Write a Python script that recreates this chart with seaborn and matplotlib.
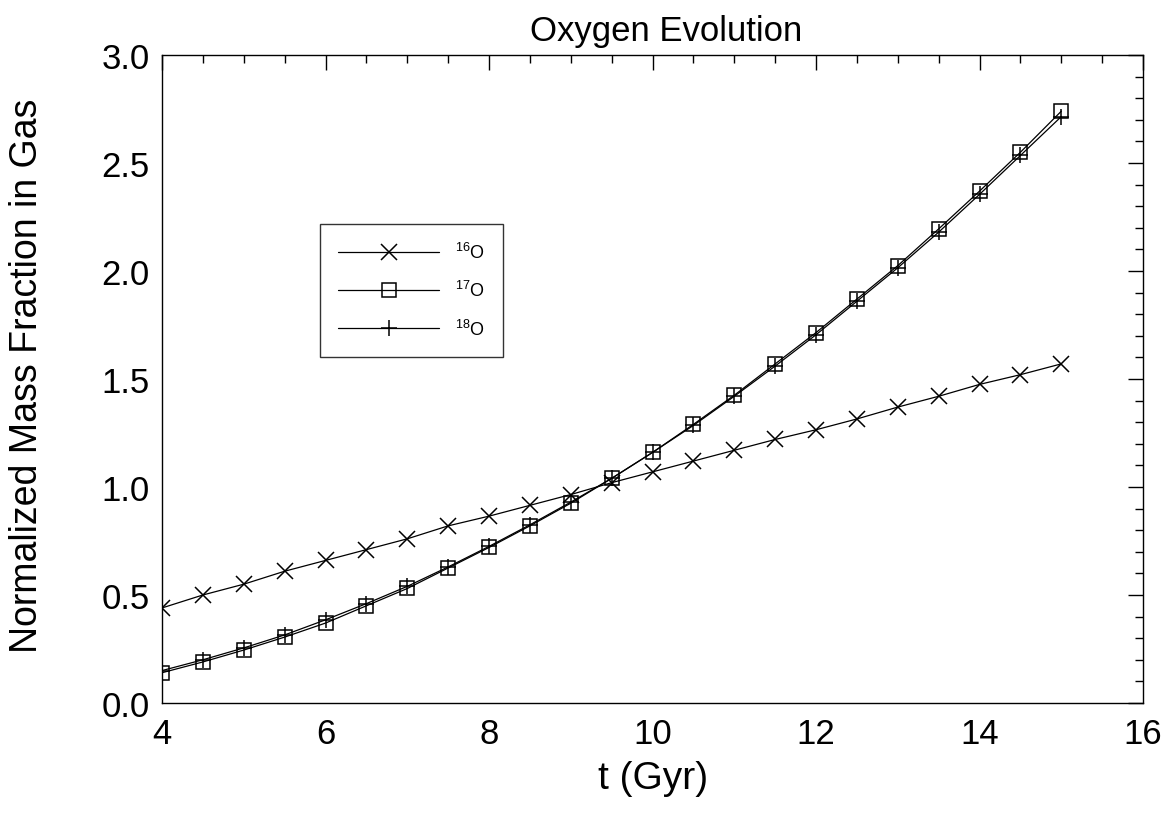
import matplotlib
matplotlib.use("Agg")
import matplotlib.pyplot as plt
import seaborn as sns
import pandas as pd
from matplotlib.lines import Line2D
from matplotlib.ticker import MultipleLocator, FormatStrFormatter

t_gyr = [4.0, 4.5, 5.0, 5.5, 6.0, 6.5, 7.0, 7.5, 8.0, 8.5, 9.0, 9.5,
         10.0, 10.5, 11.0, 11.5, 12.0, 12.5, 13.0, 13.5, 14.0, 14.5, 15.0]
o16 = [0.44, 0.50, 0.55, 0.61, 0.66, 0.71, 0.76, 0.82, 0.865, 0.915, 0.965, 1.02,
       1.07, 1.12, 1.17, 1.22, 1.265, 1.315, 1.37, 1.42, 1.475, 1.52, 1.57]
o17 = [0.14, 0.19, 0.245, 0.305, 0.37, 0.45, 0.53, 0.625, 0.72, 0.82, 0.925, 1.04,
       1.16, 1.29, 1.425, 1.57, 1.715, 1.87, 2.025, 2.195, 2.37, 2.55, 2.74]
o18 = [0.15, 0.20, 0.255, 0.315, 0.385, 0.46, 0.54, 0.63, 0.725, 0.825, 0.93, 1.04,
       1.16, 1.285, 1.42, 1.56, 1.705, 1.86, 2.015, 2.18, 2.355, 2.535, 2.715]
labels = [r"$^{16}$O", r"$^{17}$O", r"$^{18}$O"]

sns.set_style("white")
plt.rcParams['font.family'] = ['Liberation Sans', 'DejaVu Sans']
plt.rcParams['mathtext.fontset'] = 'custom'
plt.rcParams['mathtext.rm'] = 'Liberation Sans'
plt.rcParams['text.color'] = 'black'
plt.rcParams['axes.labelcolor'] = 'black'
plt.rcParams['xtick.color'] = 'black'
plt.rcParams['ytick.color'] = 'black'

fig = plt.figure(figsize=(11.7, 8.2), dpi=100)
ax = fig.add_axes([0.1385, 0.1415, 0.8385, 0.7902])

markers = ['x', 's', '+']
series = [o16, o17, o18]
handles = []
for vals, m, lab in zip(series, markers, labels):
    df = pd.DataFrame({"t": t_gyr, "v": vals})
    mfc = 'none' if m == 's' else 'black'
    ms = 10 if m == 's' else 12
    sns.lineplot(data=df, x="t", y="v", ax=ax, color='black', linewidth=0.9,
                 marker=m, markersize=ms,
                 markerfacecolor=mfc, markeredgecolor='black', markeredgewidth=1.1)
    handles.append(Line2D([0], [0], color='black', linewidth=0.9, marker=m,
                          markersize=ms, markerfacecolor=mfc,
                          markeredgecolor='black', markeredgewidth=1.1))

ax.set_xlim(4, 16)
ax.set_ylim(0, 3.0)
ax.xaxis.set_major_locator(MultipleLocator(2))
ax.xaxis.set_minor_locator(MultipleLocator(0.5))
ax.yaxis.set_major_locator(MultipleLocator(0.5))
ax.yaxis.set_minor_locator(MultipleLocator(0.1))
ax.yaxis.set_major_formatter(FormatStrFormatter('%.1f'))
ax.tick_params(which='both', direction='in', top=True, right=True, color='black')
ax.tick_params(which='major', length=11, width=1, labelsize=25)
ax.tick_params(axis='x', which='major', pad=10)
ax.tick_params(axis='y', which='major', pad=9)
ax.tick_params(which='minor', length=6, width=1)
for s in ax.spines.values():
    s.set_color('black')
    s.set_linewidth(1)

ax.set_xlabel("t (Gyr)", fontsize=28)
ax.xaxis.set_label_coords(0.5, -0.088)
ax.set_ylabel("Normalized Mass Fraction in Gas", fontsize=27)
ax.yaxis.set_label_coords(-0.119, 0.507)
ax.set_title("Oxygen Evolution", fontsize=25, pad=11, x=0.514)

leg = ax.legend(handles, labels, loc='upper left', bbox_to_anchor=(0.161, 0.739),
                borderaxespad=0, fontsize=13, handlelength=5.6, handletextpad=0.9,
                labelspacing=1.0, borderpad=1.0, frameon=True, fancybox=False,
                edgecolor='black')
leg.get_frame().set_linewidth(1)

fig.savefig("out.png", dpi=100)
